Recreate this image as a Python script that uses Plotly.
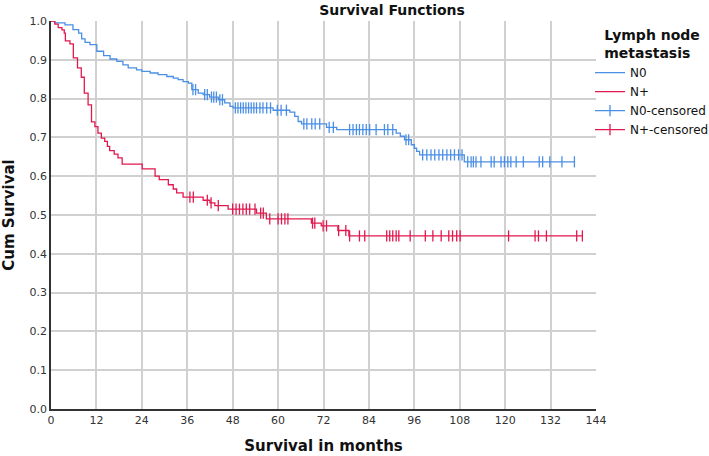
import plotly.graph_objects as go

# ---- data (months, cumulative survival after each event) ----
n0_event_t = [1.0, 3.7, 5.8, 7.3, 8.1, 9.0, 10.3, 12.1, 13.9, 15.6, 17.4, 19.0, 20.4, 22.6, 24.0,
              26.2, 28.3, 30.6, 32.3, 33.6, 34.9, 36.3, 37.2, 38.9, 40.2, 41.9, 44.2, 45.9, 47.3,
              48.1, 58.7, 63.1, 64.4, 65.3, 66.2, 72.8, 75.5, 91.2, 92.3, 93.4, 95.2, 96.0, 96.6,
              97.4, 109.2]
n0_event_s = [0.995, 0.990, 0.978, 0.969, 0.954, 0.945, 0.939, 0.922, 0.911, 0.902, 0.896, 0.887,
              0.879, 0.874, 0.870, 0.866, 0.862, 0.857, 0.853, 0.849, 0.844, 0.840, 0.823, 0.814,
              0.810, 0.804, 0.797, 0.789, 0.780, 0.776, 0.770, 0.765, 0.754, 0.741, 0.735, 0.726,
              0.720, 0.711, 0.703, 0.694, 0.681, 0.672, 0.664, 0.655, 0.637]
n0_censor_t = [37.5, 38.2, 40.6, 41.3, 42.4, 43.0, 43.7, 44.6, 45.3, 48.7, 49.4, 50.1, 50.8, 51.5,
               52.2, 52.9, 53.6, 54.3, 55.2, 56.0, 57.0, 58.0, 59.8, 60.8, 62.2, 66.8, 67.6, 68.9,
               69.8, 71.0, 73.5, 74.6, 78.9, 79.8, 80.7, 81.5, 82.4, 83.3, 84.2, 85.9, 88.1, 89.0,
               90.3, 93.8, 94.5, 98.2, 99.3, 100.4, 101.4, 102.5, 103.5, 104.6, 105.6, 106.6, 107.7,
               108.6, 110.1, 111.0, 111.6, 112.3, 113.6, 116.3, 117.1, 118.9, 119.8, 120.7, 121.5,
               122.9, 124.8, 129.0, 129.9, 131.8, 135.0, 138.3]

np_event_t = [1.0, 1.9, 2.9, 3.5, 3.8, 5.0, 5.9, 7.0, 8.0, 8.8, 9.8, 10.7, 11.6, 12.4, 13.3, 14.2,
              14.9, 15.5, 16.7, 17.7, 18.8, 24.1, 27.5, 28.6, 31.0, 32.3, 33.2, 34.9, 40.2, 42.0,
              43.3, 46.8, 54.3, 56.9, 68.8, 71.4, 75.8, 78.7]
np_event_s = [0.992, 0.983, 0.977, 0.969, 0.949, 0.941, 0.905, 0.879, 0.855, 0.814, 0.784, 0.740,
              0.728, 0.711, 0.698, 0.690, 0.677, 0.666, 0.657, 0.647, 0.631, 0.619, 0.600, 0.591,
              0.578, 0.567, 0.557, 0.546, 0.538, 0.531, 0.524, 0.515, 0.505, 0.490, 0.479, 0.472,
              0.460, 0.446]
np_censor_t = [36.7, 37.6, 41.3, 42.3, 44.2, 48.0, 48.9, 49.8, 50.7, 51.6, 52.5, 53.9, 55.4, 56.1,
               57.8, 60.0, 60.9, 61.8, 62.6, 69.1, 69.7, 71.9, 72.8, 76.0, 77.9, 78.9, 81.5, 82.9,
               88.7, 89.5, 90.3, 91.2, 91.9, 94.9, 98.9, 100.9, 103.1, 105.1, 106.1, 107.2, 108.1,
               120.9, 127.9, 128.8, 130.9, 138.9, 140.4]

x_ticks = [0, 12, 24, 36, 48, 60, 72, 84, 96, 108, 120, 132, 144]
y_ticks = [0.0, 0.1, 0.2, 0.3, 0.4, 0.5, 0.6, 0.7, 0.8, 0.9, 1.0]

BLUE = "#4a8fe6"
RED = "#e2194f"


def step_xy(ev_t, ev_s, cens_t):
    xs = [0.0] + list(ev_t)
    ys = [1.0] + list(ev_s)
    end = max(cens_t)
    if end > xs[-1]:
        xs.append(end)
        ys.append(ys[-1])
    return xs, ys


def surv_at(t, ev_t, ev_s):
    s = 1.0
    for et, es in zip(ev_t, ev_s):
        if et <= t:
            s = es
    return s


fig = go.Figure()
for name, ev_t, ev_s, cens, col in [("N0", n0_event_t, n0_event_s, n0_censor_t, BLUE),
                                     ("N+", np_event_t, np_event_s, np_censor_t, RED)]:
    xs, ys = step_xy(ev_t, ev_s, cens)
    fig.add_trace(go.Scatter(x=xs, y=ys, mode="lines", line=dict(color=col, width=1.3, shape="hv"),
                             name=name))
for name, ev_t, ev_s, cens, col in [("N0-censored", n0_event_t, n0_event_s, n0_censor_t, BLUE),
                                     ("N+-censored", np_event_t, np_event_s, np_censor_t, RED)]:
    # points separated by gaps so no line is drawn on the plot, but legend shows line + tick
    cx, cy = [], []
    for t in cens:
        cx += [t, None]
        cy += [surv_at(t, ev_t, ev_s), None]
    fig.add_trace(go.Scatter(x=cx, y=cy, mode="lines+markers", connectgaps=False,
                             line=dict(color=col, width=1.3),
                             marker=dict(symbol="line-ns-open", size=8, color=col,
                                         line=dict(color=col, width=1.3)),
                             name=name))

font_fam = "DejaVu Sans, sans-serif"
fig.update_layout(
    width=709, height=456,
    margin=dict(l=51, r=113, t=21, b=47, autoexpand=False),
    paper_bgcolor="white", plot_bgcolor="white",
    font=dict(family=font_fam, color="#222222", size=11),
    title=dict(text="<b>Survival Functions</b>", x=0.553, xanchor="center", y=0.978,
               yanchor="middle", font=dict(size=14, color="#111111")),
    legend=dict(x=0.989, xanchor="left", y=0.998, yanchor="top",
                title=dict(text="<b>Lymph node<br>metastasis</b>", side="top center",
                           font=dict(size=14, color="#111111")),
                font=dict(size=12, color="#111111"), itemwidth=30, tracegroupgap=0,
                bgcolor="rgba(0,0,0,0)"),
    showlegend=True,
)
fig.update_xaxes(range=[0, 144], tickvals=x_ticks, ticktext=[str(v) for v in x_ticks],
                 showgrid=True, gridcolor="#d0d0d0", gridwidth=1.5, automargin=False,
                 showline=True, linecolor="#333333", linewidth=1.5, ticks="",
                 zeroline=False, tickfont=dict(size=11, color="#333333"),
                 title=dict(text="<b>Survival in months</b>", font=dict(size=15, color="#111111")))
fig.update_yaxes(range=[0, 1.0], tickvals=y_ticks, ticktext=[f"{v:.1f}" for v in y_ticks],
                 showgrid=True, gridcolor="#d0d0d0", gridwidth=1.5, automargin=False,
                 showline=True, linecolor="#333333", linewidth=1.5, ticks="",
                 zeroline=False, tickfont=dict(size=11, color="#333333"),
                 title=dict(text="<b>Cum Survival</b>", font=dict(size=15, color="#111111")))

fig.write_html("out.html", config={"displayModeBar": False},
               post_script="document.body.style.margin='0';")
